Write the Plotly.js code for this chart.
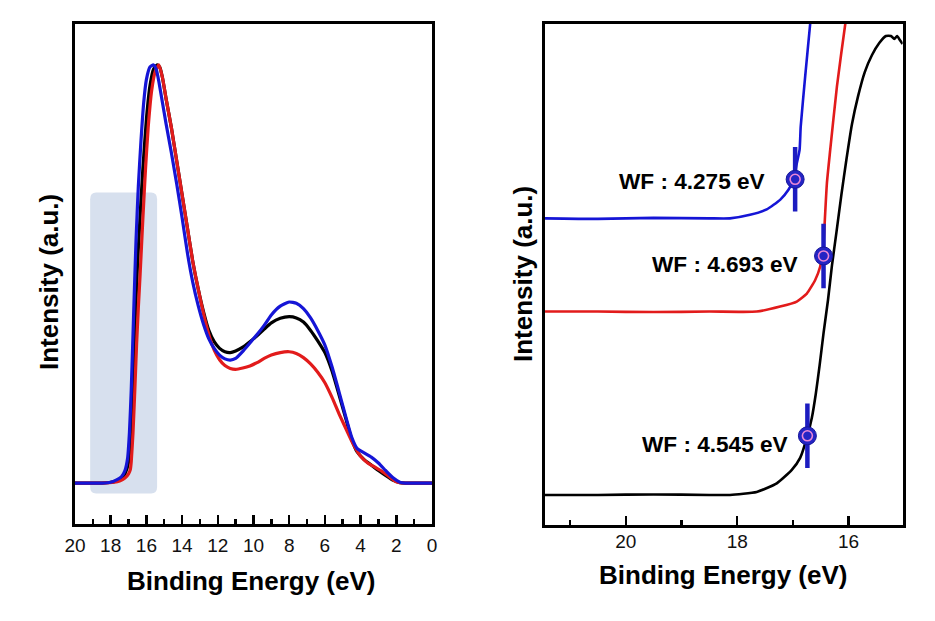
<!DOCTYPE html>
<html>
<head>
<meta charset="utf-8">
<script src="https://cdn.plot.ly/plotly-3.0.1.min.js"></script>
<style>html,body{margin:0;padding:0;background:#fff;}#chart{width:935px;height:621px;}</style>
</head>
<body>
<div id="chart"></div>
<script>
// ---------- Left panel: full UPS spectra (Binding energy, eV / normalized intensity) ----------
const blackEV = [20, 18.5, 17.8, 17.4, 17.2, 17.0, 16.9, 16.8, 16.7, 16.6, 16.5, 16.35, 16.2, 16.0, 15.8, 15.6, 15.4, 15.25, 15.1, 14.9, 14.6, 14.3, 14.0, 13.7, 13.4, 13.1, 12.8, 12.5, 12.2, 11.9, 11.6, 11.3, 11.0, 10.6, 10.2, 9.8, 9.4, 9.0, 8.5, 8.0, 7.6, 7.2, 6.8, 6.4, 6.0, 5.6, 5.2, 4.8, 4.5, 4.2, 3.8, 3.4, 3.0, 2.6, 2.2, 1.8, 1.5, 0];
const blackI  = [0, 0, 0.003, 0.01, 0.022, 0.05, 0.1, 0.2, 0.31, 0.42, 0.52, 0.64, 0.75, 0.87, 0.95, 0.99, 1.0, 0.995, 0.97, 0.92, 0.85, 0.77, 0.69, 0.61, 0.53, 0.465, 0.41, 0.365, 0.338, 0.322, 0.314, 0.312, 0.316, 0.325, 0.338, 0.352, 0.368, 0.383, 0.394, 0.398, 0.395, 0.385, 0.365, 0.34, 0.312, 0.268, 0.21, 0.15, 0.105, 0.075, 0.056, 0.043, 0.03, 0.018, 0.007, 0.001, 0, 0];

const redEV = [20, 18.5, 17.8, 17.5, 17.2, 17.0, 16.9, 16.85, 16.75, 16.65, 16.55, 16.45, 16.35, 16.2, 16.05, 15.9, 15.7, 15.5, 15.3, 15.1, 14.9, 14.6, 14.3, 14.0, 13.7, 13.4, 13.1, 12.8, 12.5, 12.2, 11.9, 11.6, 11.3, 11.0, 10.6, 10.2, 9.8, 9.4, 9.0, 8.5, 8.0, 7.6, 7.2, 6.8, 6.4, 6.0, 5.6, 5.2, 4.8, 4.4, 4.0, 3.6, 3.2, 2.8, 2.4, 2.0, 1.7, 0];
const redI  = [0, 0, 0.002, 0.005, 0.012, 0.022, 0.032, 0.05, 0.12, 0.22, 0.33, 0.42, 0.5, 0.63, 0.75, 0.85, 0.94, 0.985, 1.0, 0.97, 0.92, 0.85, 0.77, 0.69, 0.61, 0.53, 0.465, 0.405, 0.355, 0.318, 0.295, 0.281, 0.274, 0.272, 0.275, 0.28, 0.288, 0.298, 0.306, 0.312, 0.314, 0.31, 0.3, 0.285, 0.265, 0.24, 0.205, 0.165, 0.128, 0.092, 0.064, 0.048, 0.038, 0.028, 0.015, 0.003, 0, 0];

const blueEV = [20, 18.5, 18.0, 17.7, 17.4, 17.2, 17.05, 16.95, 16.85, 16.76, 16.68, 16.58, 16.45, 16.3, 16.15, 16.0, 15.8, 15.6, 15.45, 15.3, 15.1, 14.9, 14.6, 14.3, 14.0, 13.7, 13.4, 13.1, 12.8, 12.5, 12.2, 11.9, 11.6, 11.3, 11.0, 10.6, 10.2, 9.8, 9.4, 9.0, 8.5, 8.0, 7.6, 7.2, 6.8, 6.4, 6.0, 5.6, 5.2, 4.8, 4.5, 4.2, 3.8, 3.4, 3.0, 2.6, 2.2, 1.8, 1.5, 0];
const blueI  = [0, 0, 0.002, 0.007, 0.015, 0.03, 0.06, 0.12, 0.22, 0.34, 0.45, 0.58, 0.71, 0.82, 0.91, 0.965, 0.995, 1.0, 0.99, 0.96, 0.91, 0.86, 0.79, 0.715, 0.635, 0.55, 0.48, 0.425, 0.38, 0.345, 0.322, 0.306, 0.297, 0.294, 0.298, 0.315, 0.335, 0.355, 0.377, 0.402, 0.423, 0.433, 0.43, 0.417, 0.395, 0.365, 0.33, 0.278, 0.217, 0.154, 0.11, 0.083, 0.072, 0.062, 0.048, 0.03, 0.013, 0.002, 0, 0];

// highlighted secondary-electron cut-off region (left panel)
const shadeEV = [19.15, 15.4];
const shadeI  = [-0.025, 0.695];

// ---------- Right panel: secondary electron cut-off (offset curves, a.u.) ----------
const blueCutEV = [21.45, 20.5, 19.5, 18.5, 18.13, 17.77, 17.47, 17.23, 17.08, 16.99, 16.93, 16.88, 16.86, 16.78, 16.69, 16.6];
const blueCutI  = [6.12, 6.11, 6.13, 6.12, 6.12, 6.19, 6.30, 6.49, 6.69, 6.89, 7.22, 7.49, 7.95, 8.95, 10.0, 11.1];

const redCutEV = [21.45, 20.5, 19.5, 18.5, 17.65, 17.23, 16.93, 16.75, 16.60, 16.51, 16.46, 16.44, 16.39, 16.33, 16.21, 16.06, 15.95];
const redCutI  = [4.26, 4.26, 4.25, 4.26, 4.26, 4.36, 4.46, 4.62, 4.89, 5.16, 5.49, 5.82, 6.82, 7.49, 8.75, 10.0, 10.8];

const blackCutEV = [21.45, 20.5, 19.5, 18.5, 18.13, 17.65, 17.29, 17.02, 16.87, 16.74, 16.66, 16.59, 16.52, 16.45, 16.37, 16.30, 16.22, 16.13, 16.04, 15.94, 15.83, 15.71, 15.58, 15.45, 15.33, 15.24, 15.18, 15.13, 15.08, 15.03];
const blackCutI  = [0.60, 0.60, 0.61, 0.60, 0.60, 0.66, 0.83, 1.10, 1.34, 1.78, 2.14, 2.61, 3.19, 3.83, 4.49, 5.17, 5.83, 6.59, 7.29, 8.00, 8.56, 9.04, 9.38, 9.62, 9.76, 9.76, 9.70, 9.76, 9.68, 9.60];

// work-function cut-off points
const wfEV    = [16.96, 16.45, 16.74];
const wfI     = [6.90, 5.37, 1.78];
const wfLabel = ['WF : 4.275 eV', 'WF : 4.693 eV', 'WF : 4.545 eV'];

// axis titles
const xTitle = 'Binding Energy (eV)';
const yTitle = 'Intensity (a.u.)';

// ---------- styling ----------
const FONT = 'Liberation Sans, Arial, Helvetica, sans-serif';
const BLUE = '#1515d6', RED = '#e21b1b', BLACK = '#000000';
const MARK = '#2424c4';

function line(x, y, color, width, xa, ya) {
  return {x: x, y: y, type: 'scatter', mode: 'lines', xaxis: xa, yaxis: ya,
          line: {color: color, width: width, shape: 'spline', smoothing: 0.5},
          hoverinfo: 'skip', showlegend: false};
}

const traces = [
  line(blackEV, blackI, BLACK, 3.2, 'x', 'y'),
  line(redEV, redI, RED, 3.2, 'x', 'y'),
  line(blueEV, blueI, BLUE, 3.2, 'x', 'y'),
  line(blackCutEV, blackCutI, BLACK, 2.6, 'x2', 'y2'),
  line(redCutEV, redCutI, RED, 2.6, 'x2', 'y2'),
  line(blueCutEV, blueCutI, BLUE, 2.6, 'x2', 'y2'),
  // vertical bar through cut-off point
  {x: wfEV, y: wfI, type: 'scatter', mode: 'markers', xaxis: 'x2', yaxis: 'y2',
   marker: {symbol: 'line-ns', size: 46, color: '#1c1cc0', line: {width: 4.5, color: '#1c1cc0'}},
   hoverinfo: 'skip', showlegend: false},
  // filled circle
  {x: wfEV, y: wfI, type: 'scatter', mode: 'markers', xaxis: 'x2', yaxis: 'y2',
   marker: {symbol: 'circle', size: 18, color: MARK, line: {width: 1, color: '#15159a'}},
   hoverinfo: 'skip', showlegend: false},
  // pink ring
  {x: wfEV, y: wfI, type: 'scatter', mode: 'markers', xaxis: 'x2', yaxis: 'y2',
   marker: {symbol: 'circle-open', size: 10, color: '#ea86d6', line: {width: 1.6, color: '#ea86d6'}},
   hoverinfo: 'skip', showlegend: false}
];

const labelShift = [[-28, -2], [-24, -9], [-17, -9]];
const annotations = wfLabel.map((t, i) => ({
  text: t, x: wfEV[i], y: wfI[i], xref: 'x2', yref: 'y2', showarrow: false,
  xanchor: 'right', yanchor: 'middle', xshift: labelShift[i][0], yshift: labelShift[i][1],
  font: {family: FONT, size: 22.6, color: '#000', weight: 'bold'}
}));

const titleFont = {family: FONT, size: 26, color: '#000', weight: 'bold'};
const W = 935, H = 621;
function paperTitle(text, px, py, angle) {
  return {text: text, xref: 'paper', yref: 'paper', x: px / W, y: 1 - py / H,
          xanchor: 'center', yanchor: 'middle', showarrow: false, textangle: angle, font: titleFont};
}
annotations.push(paperTitle(xTitle, 251, 581, 0));
annotations.push(paperTitle(xTitle, 723, 575, 0));
annotations.push(paperTitle(yTitle, 49, 282, -90));
annotations.push(paperTitle(yTitle, 523, 274, -90));

// rounded highlight rectangle
const rx = 0.33, ry = 0.016;
const [sx0, sx1] = shadeEV, [sy0, sy1] = shadeI;
const shadePath = `M ${sx0 - rx},${sy0} L ${sx1 + rx},${sy0} Q ${sx1},${sy0} ${sx1},${sy0 + ry} ` +
  `L ${sx1},${sy1 - ry} Q ${sx1},${sy1} ${sx1 + rx},${sy1} L ${sx0 - rx},${sy1} Q ${sx0},${sy1} ${sx0},${sy1 - ry} ` +
  `L ${sx0},${sy0 + ry} Q ${sx0},${sy0} ${sx0 - rx},${sy0} Z`;

const tickFont = {family: FONT, size: 19, color: '#111'};

const xBase = {
  showline: true, linewidth: 3, linecolor: '#000', mirror: true, showgrid: false, zeroline: false,
  ticks: 'inside', ticklen: 9, tickwidth: 2.5, tickcolor: '#000', tickfont: tickFont,
  automargin: false
};
const yBase = {
  showline: true, linewidth: 3, linecolor: '#000', mirror: true, showgrid: false, zeroline: false,
  ticks: '', showticklabels: false, automargin: false
};

const layout = {
  width: W, height: H,
  margin: {l: 0, r: 0, t: 0, b: 0},
  paper_bgcolor: '#fff', plot_bgcolor: '#fff',
  showlegend: false,
  xaxis: Object.assign({}, xBase, {
    domain: [0.0802, 0.4620], anchor: 'y', range: [20, 0],
    tickmode: 'linear', tick0: 0, dtick: 2, ticklabelstandoff: 2,
    minor: {dtick: 1, ticks: 'inside', ticklen: 5, tickwidth: 2.5, tickcolor: '#000'}
  }),
  yaxis: Object.assign({}, yBase, {
    domain: [0.1562, 0.9614], anchor: 'x', range: [-0.098, 1.098]
  }),
  xaxis2: Object.assign({}, xBase, {
    domain: [0.5829, 0.9654], anchor: 'y2', range: [21.45, 15.03],
    tickmode: 'array', tickvals: [20, 18, 16], ticktext: ['20', '18', '16'], ticklabelstandoff: -3,
    minor: {tickvals: [21, 19, 17], ticks: 'inside', ticklen: 5, tickwidth: 2.5, tickcolor: '#000'}
  }),
  yaxis2: Object.assign({}, yBase, {
    domain: [0.1546, 0.9614], anchor: 'x2', range: [0, 10]
  }),
  shapes: [{type: 'path', xref: 'x', yref: 'y', path: shadePath, fillcolor: '#d7e0ee',
            line: {width: 0}, layer: 'below'}],
  annotations: annotations
};

Plotly.newPlot('chart', traces, layout, {staticPlot: true, displayModeBar: false});
</script>
</body>
</html>
